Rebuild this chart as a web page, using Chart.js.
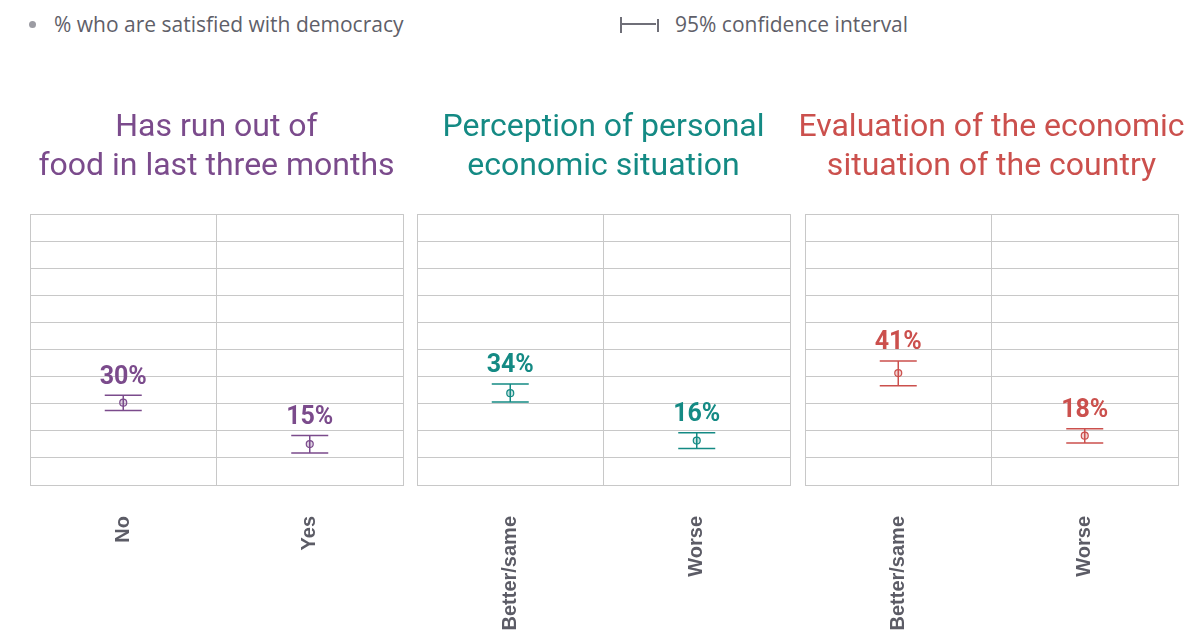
<!DOCTYPE html>
<html>
<head>
<meta charset="utf-8">
<script src="https://cdn.jsdelivr.net/npm/chart.js@4.4.1/dist/chart.umd.min.js"></script>
<style>
  html, body { margin: 0; padding: 0; background: #ffffff; }
  body { width: 1186px; height: 636px; overflow: hidden; position: relative; font-family: "Open Sans", sans-serif; }
  .panel { position: absolute; top: 0; width: 397px; height: 636px; }
  .legend { position: absolute; top: 9px; height: 30px; font-size: 21px; color: #5f5f69; line-height: 30px; white-space: nowrap; }
  .dot { position: absolute; left: 29px; top: 21px; width: 7px; height: 7px; border-radius: 50%; background: #9c9ca3; }
  .ci { position: absolute; left: 620px; top: 17px; width: 40px; height: 16px; }
  .ci .l { position: absolute; left: 0; top: 0px; width: 2px; height: 16px; background: #6f6f78; }
  .ci .m { position: absolute; left: 2px; top: 6px; width: 34px; height: 1.5px; background: #6f6f78; }
  .ci .r { position: absolute; left: 37px; top: 2px; width: 2px; height: 13px; background: #6f6f78; }
</style>
</head>
<body>
<div class="dot"></div>
<div class="legend" style="left:54px">% who are satisfied with democracy</div>
<div class="ci"><div class="l"></div><div class="m"></div><div class="r"></div></div>
<div class="legend" style="left:675px">95% confidence interval</div>

<div class="panel" style="left:18px"><canvas id="c1" width="397" height="636"></canvas></div>
<div class="panel" style="left:405px"><canvas id="c2" width="397" height="636"></canvas></div>
<div class="panel" style="left:793px"><canvas id="c3" width="397" height="636"></canvas></div>

<script>
// ---- data ----
const titles1 = ["Has run out of", "food in last three months"];
const titles2 = ["Perception of personal", "economic situation"];
const titles3 = ["Evaluation of the economic", "situation of the country"];

const categories1 = ["No", "Yes"];
const categories2 = ["Better/same", "Worse"];
const categories3 = ["Better/same", "Worse"];

const values1 = [30.4, 15.1];
const values2 = [33.9, 16.4];
const values3 = [41.3, 18.2];

const lower1 = [27.5, 11.8];
const upper1 = [33.1, 18.3];
const lower2 = [30.6, 13.5];
const upper2 = [37.3, 19.3];
const lower3 = [36.6, 15.5];
const upper3 = [45.8, 20.8];

const yTicksMin = 0;
const yTicksMax = 100;
const yTicksStep = 10;

const color1 = "#7b4b8c";
const color2 = "#148a84";
const color3 = "#cb504d";

// ---- drawing ----
const gridColor = "#c8c8c8";

const errorBarPlugin = {
  id: "errorBars",
  afterDatasetsDraw(chart) {
    const cfg = chart.options.plugins.errorBars;
    const xs = chart.scales.x, ys = chart.scales.y;
    const ctx = chart.ctx;
    ctx.save();
    ctx.strokeStyle = cfg.color;
    ctx.fillStyle = cfg.color;
    ctx.lineWidth = 1.5;
    cfg.values.forEach((v, i) => {
      const x = xs.getPixelForValue(i);
      const yl = ys.getPixelForValue(cfg.lower[i]);
      const yh = ys.getPixelForValue(cfg.upper[i]);
      ctx.beginPath();
      ctx.moveTo(x, yl); ctx.lineTo(x, yh);
      ctx.moveTo(x - 18.5, yl); ctx.lineTo(x + 18.5, yl);
      ctx.moveTo(x - 18.5, yh); ctx.lineTo(x + 18.5, yh);
      ctx.stroke();
      ctx.font = "bold 25px Roboto";
      ctx.textAlign = "center";
      ctx.textBaseline = "alphabetic";
      ctx.fillText(Math.round(v) + "%", x, yh - 11.5);
    });
    ctx.restore();
  }
};

function makeChart(id, title, cats, vals, lo, hi, color) {
  return new Chart(document.getElementById(id), {
    type: "line",
    data: {
      labels: cats,
      datasets: [{
        data: vals,
        showLine: false,
        pointRadius: 3.5,
        pointHoverRadius: 3.5,
        pointBorderWidth: 1.2,
        pointBorderColor: color,
        pointBackgroundColor: color + "40"
      }]
    },
    options: {
      responsive: false,
      animation: false,
      events: [],
      layout: { padding: 0 },
      plugins: {
        legend: { display: false },
        tooltip: { enabled: false },
        title: {
          display: true,
          text: title,
          color: color,
          font: { family: "Roboto", size: 32, weight: "normal", lineHeight: 1.22 },
          padding: { top: 108, bottom: 28 }
        },
        errorBars: { values: vals, lower: lo, upper: hi, color: color }
      },
      scales: {
        x: {
          type: "category",
          offset: true,
          grid: { offset: true, color: gridColor, lineWidth: 1, drawTicks: false },
          border: { color: gridColor, width: 1 },
          ticks: {
            autoSkip: false,
            minRotation: 90,
            maxRotation: 90,
            padding: 31,
            color: "#5c5c66",
            font: { family: "Liberation Sans", size: 20, weight: "bold" }
          },
          afterFit(scale) { scale.height = 151; }
        },
        y: {
          min: yTicksMin,
          max: yTicksMax,
          ticks: { display: false, stepSize: yTicksStep },
          grid: { color: gridColor, lineWidth: 1, drawTicks: false },
          border: { color: gridColor, width: 1 },
          afterFit(scale) { scale.width = 12; }
        },
        y2: {
          position: "right",
          min: yTicksMin,
          max: yTicksMax,
          ticks: { display: false },
          grid: { display: false, drawTicks: false },
          border: { display: false },
          afterFit(scale) { scale.width = 12; }
        }
      }
    },
    plugins: [errorBarPlugin]
  });
}

makeChart("c1", titles1, categories1, values1, lower1, upper1, color1);
makeChart("c2", titles2, categories2, values2, lower2, upper2, color2);
makeChart("c3", titles3, categories3, values3, lower3, upper3, color3);
</script>
</body>
</html>
